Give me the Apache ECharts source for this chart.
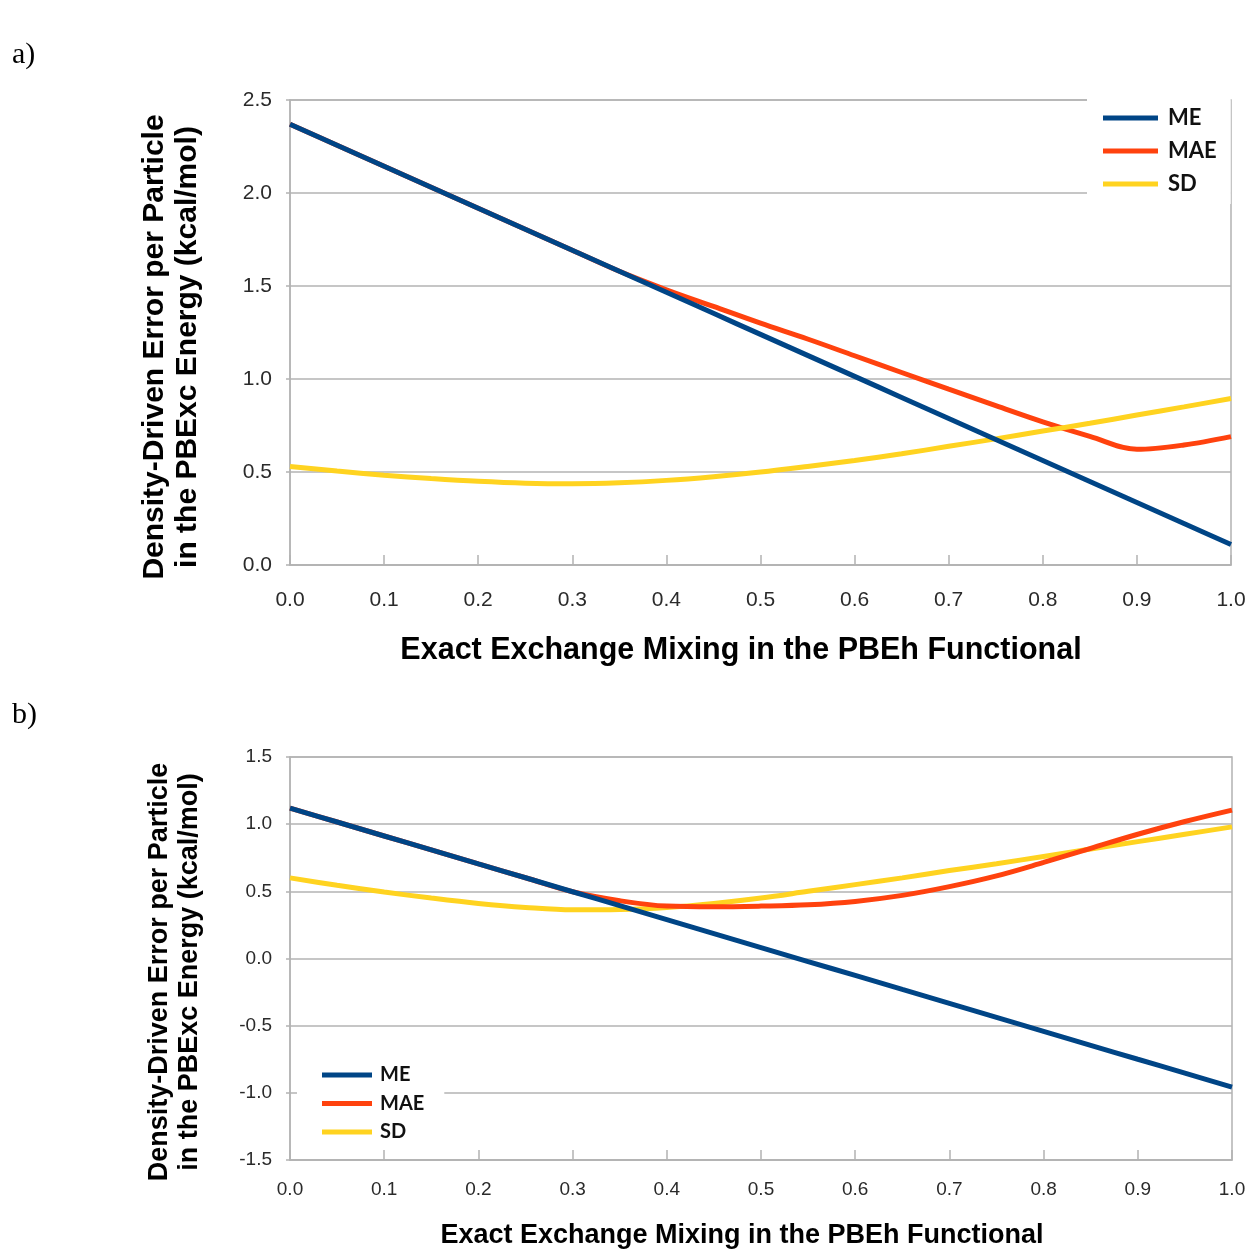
<!DOCTYPE html>
<html>
<head>
<meta charset="utf-8">
<script src="https://cdn.jsdelivr.net/npm/echarts@6/dist/echarts.min.js"></script>
<style>
  html, body { margin: 0; padding: 0; background: #fff; }
  #main { width: 1250px; height: 1249px; }
</style>
</head>
<body>
<div id="main"></div>
<script>
// exact exchange mixing fraction
const mixing = [0, 0.05, 0.1, 0.15, 0.2, 0.25, 0.3, 0.35, 0.4, 0.45, 0.5,
  0.55, 0.6, 0.65, 0.7, 0.75, 0.8, 0.85, 0.9, 0.95, 1.0];

// panel a)
const meA = [2.37, 2.257, 2.144, 2.031, 1.918, 1.805, 1.692, 1.579, 1.466, 1.353, 1.24,
  1.127, 1.014, 0.901, 0.788, 0.675, 0.562, 0.449, 0.336, 0.223, 0.11];
const maeA = [2.37, 2.257, 2.144, 2.031, 1.918, 1.805, 1.692, 1.579, 1.48, 1.39, 1.30,
  1.215, 1.125, 1.035, 0.945, 0.857, 0.77, 0.692, 0.622, 0.645, 0.69];
const sdA = [0.53, 0.505, 0.483, 0.465, 0.45, 0.44, 0.437, 0.442, 0.455, 0.475, 0.5,
  0.53, 0.562, 0.598, 0.638, 0.678, 0.72, 0.762, 0.806, 0.85, 0.895];

// panel b)
const meB = [1.12, 1.016, 0.912, 0.808, 0.704, 0.601, 0.497, 0.393, 0.289, 0.185, 0.081,
  -0.023, -0.126, -0.23, -0.334, -0.438, -0.542, -0.646, -0.75, -0.853, -0.957];
const maeB = [1.12, 1.016, 0.912, 0.808, 0.704, 0.601, 0.497, 0.43, 0.39, 0.385, 0.39,
  0.40, 0.425, 0.47, 0.535, 0.615, 0.715, 0.82, 0.925, 1.02, 1.105];
const sdB = [0.60, 0.545, 0.495, 0.45, 0.41, 0.38, 0.362, 0.365, 0.38, 0.41, 0.45,
  0.5, 0.55, 0.60, 0.655, 0.705, 0.76, 0.815, 0.87, 0.925, 0.98];

const seriesNames = ['ME', 'MAE', 'SD'];
const colors = ['#004586', '#ff420e', '#ffd320'];

const yTicksA = { min: 0, max: 2.5, interval: 0.5 };
const yTicksB = { min: -1.5, max: 1.5, interval: 0.5 };

const chart = echarts.init(document.getElementById('main'), null, { renderer: 'canvas' });

function pairs(ys) {
  return mixing.map((x, i) => [x, ys[i]]);
}

function xAxisOpt(idx, fontSize, margin) {
  return {
    type: 'value',
    gridIndex: idx,
    min: 0,
    max: 1,
    interval: 0.1,
    axisLine: { onZero: false, lineStyle: { color: '#b3b3b3', width: 1.5 } },
    axisTick: { inside: true, length: 10, lineStyle: { color: '#b3b3b3', width: 1.5 } },
    axisLabel: {
      fontFamily: 'Liberation Sans',
      fontSize: fontSize,
      color: '#2a2a2a',
      margin: margin,
      formatter: v => v.toFixed(1)
    },
    splitLine: { show: false }
  };
}

function yAxisOpt(idx, ticks, fontSize) {
  return {
    type: 'value',
    gridIndex: idx,
    min: ticks.min,
    max: ticks.max,
    interval: ticks.interval,
    axisLine: { show: true, onZero: false, lineStyle: { color: '#b3b3b3', width: 1.5 } },
    axisTick: { show: true, length: 4, lineStyle: { color: '#b3b3b3', width: 1.5 } },
    axisLabel: {
      fontFamily: 'Liberation Sans',
      fontSize: fontSize,
      color: '#2a2a2a',
      margin: 18,
      formatter: v => v.toFixed(1)
    },
    splitLine: { lineStyle: { color: '#b3b3b3', width: 1.5 } }
  };
}

function lineSeries(name, idx, ys, color, z) {
  return {
    name: name,
    type: 'line',
    xAxisIndex: idx,
    yAxisIndex: idx,
    data: pairs(ys),
    smooth: 0.35,
    showSymbol: false,
    symbol: 'none',
    z: z,
    lineStyle: { color: color, width: 5 },
    itemStyle: { color: color }
  };
}

const option = {
  backgroundColor: '#fff',
  animation: false,
  color: colors,
  grid: [
    { left: 290, top: 100, width: 941, height: 465, show: true, borderColor: '#b3b3b3', borderWidth: 1.5 },
    { left: 290, top: 757, width: 942, height: 403, show: true, borderColor: '#b3b3b3', borderWidth: 1.5 }
  ],
  xAxis: [xAxisOpt(0, 21, 25), xAxisOpt(1, 19, 20)],
  yAxis: [yAxisOpt(0, yTicksA, 21), yAxisOpt(1, yTicksB, 19)],
  legend: [
    {
      data: seriesNames,
      orient: 'vertical',
      left: 1087,
      top: 96,
      padding: [11, 14, 9, 16],
      backgroundColor: '#fff',
      icon: 'rect',
      itemWidth: 55,
      itemHeight: 5,
      itemGap: 11,
      textStyle: { fontFamily: 'Lato', fontWeight: 'bold', fontSize: 22, lineHeight: 22, color: '#111', padding: [0, 0, 0, 5] }
    },
    {
      data: seriesNames,
      orient: 'vertical',
      left: 297,
      top: 1058,
      padding: [7, 20, 8, 25],
      backgroundColor: '#fff',
      icon: 'rect',
      itemWidth: 50,
      itemHeight: 5,
      itemGap: 8.5,
      textStyle: { fontFamily: 'Lato', fontWeight: 'bold', fontSize: 20, lineHeight: 20, color: '#111', padding: [0, 0, 0, 3] }
    }
  ],
  graphic: [
    { type: 'text', left: 12, top: 40, style: { text: 'a)', font: '30px "Liberation Serif"', fill: '#000' } },
    { type: 'text', left: 12, top: 700, style: { text: 'b)', font: '30px "Liberation Serif"', fill: '#000' } },
    {
      type: 'text', x: 171, y: 347, rotation: Math.PI / 2,
      style: {
        text: 'Density-Driven Error per Particle\nin the PBExc Energy (kcal/mol)',
        font: 'bold 30px "Liberation Sans"', lineHeight: 33, fill: '#000',
        textAlign: 'center', textVerticalAlign: 'middle'
      }
    },
    {
      type: 'text', x: 741, y: 651,
      style: {
        text: 'Exact Exchange Mixing in the PBEh Functional',
        font: 'bold 30.5px "Liberation Sans"', fill: '#000',
        textAlign: 'center', textVerticalAlign: 'middle'
      }
    },
    {
      type: 'text', x: 175, y: 972, rotation: Math.PI / 2,
      style: {
        text: 'Density-Driven Error per Particle\nin the PBExc Energy (kcal/mol)',
        font: 'bold 27px "Liberation Sans"', lineHeight: 30, fill: '#000',
        textAlign: 'center', textVerticalAlign: 'middle'
      }
    },
    {
      type: 'text', x: 742, y: 1236,
      style: {
        text: 'Exact Exchange Mixing in the PBEh Functional',
        font: 'bold 27px "Liberation Sans"', fill: '#000',
        textAlign: 'center', textVerticalAlign: 'middle'
      }
    }
  ],
  series: [
    lineSeries('ME', 0, meA, colors[0], 4),
    lineSeries('MAE', 0, maeA, colors[1], 2),
    lineSeries('SD', 0, sdA, colors[2], 3),
    lineSeries('ME', 1, meB, colors[0], 4),
    lineSeries('MAE', 1, maeB, colors[1], 3),
    lineSeries('SD', 1, sdB, colors[2], 2)
  ]
};

chart.setOption(option);
</script>
</body>
</html>
